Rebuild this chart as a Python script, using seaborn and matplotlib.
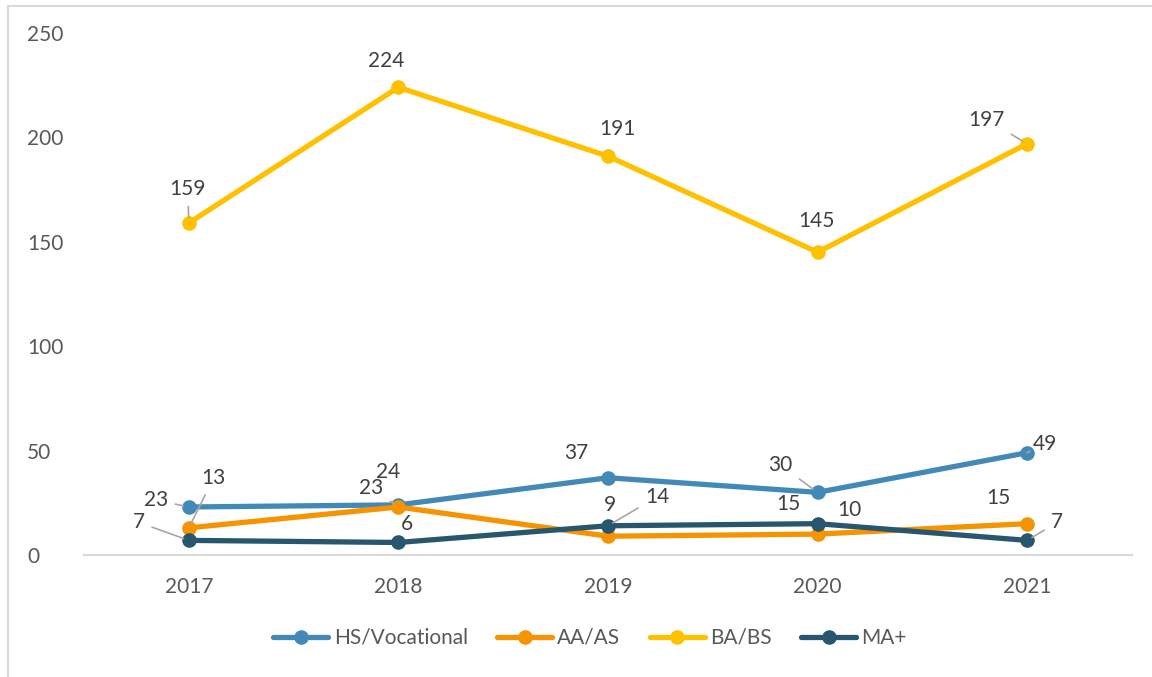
import matplotlib
matplotlib.use('Agg')
import matplotlib.pyplot as plt
from matplotlib.patches import Rectangle
import seaborn as sns
import pandas as pd

years = [2017, 2018, 2019, 2020, 2021]
series_names = ['HS/Vocational', 'AA/AS', 'BA/BS', 'MA+']
hs_vocational = [23, 24, 37, 30, 49]
aa_as = [13, 23, 9, 10, 15]
ba_bs = [159, 224, 191, 145, 197]
ma_plus = [7, 6, 14, 15, 7]
y_ticks = [0, 50, 100, 150, 200, 250]

colors = ['#4389B8', '#F59300', '#FFC000', '#27566E']

# label offsets in pixels (dx right, dy up) and whether a leader line is drawn
label_offsets = {
    'HS/Vocational': [(-33, 7, True), (-10, 33, False), (-32, 25, False), (-37, 27, True), (18, 9, True)],
    'AA/AS': [(25, 50, True), (-27, 19, True), (2, 31, False), (32, 24, False), (-29, 26, False)],
    'BA/BS': [(-1, 34, True), (-12, 26, False), (9, 27, False), (-1, 31, False), (-41, 24, True)],
    'MA+': [(-50, 18, True), (9, 18, False), (49, 29, True), (-29, 20, False), (30, 18, True)],
}

sns.set_style('white')
plt.rcParams['font.family'] = ['Lato', 'DejaVu Sans']

values = [hs_vocational, aa_as, ba_bs, ma_plus]
df = pd.DataFrame({
    'year': years * len(series_names),
    'value': sum(values, []),
    'series': [s for s in series_names for _ in years],
})

fig = plt.figure(figsize=(11.52, 6.77), dpi=100)
ax = fig.add_axes([84 / 1152, 1 - 555 / 677, (1132 - 84) / 1152, (555 - 33) / 677])

sns.lineplot(data=df, x='year', y='value', hue='series', hue_order=series_names,
             palette=colors, marker='o', markersize=10.5, markeredgewidth=0,
             linewidth=3.8, sort=False, ax=ax)

for name, vals in zip(series_names, values):
    for yr, v, (dx, dy, leader) in zip(years, vals, label_offsets[name]):
        arrow = None
        if leader:
            arrow = dict(arrowstyle='-', color='#A6A6A6', lw=1.2, shrinkA=3, shrinkB=4)
        ax.annotate(str(v), xy=(yr, v), xytext=(dx * 0.72, dy * 0.72),
                    textcoords='offset points', ha='center', va='center',
                    fontsize=15, color='#404040', arrowprops=arrow)

ax.set_xlim(2016.5, 2021.5)
ax.set_ylim(0, 250)
ax.set_xticks(years)
ax.set_xticklabels([str(y) for y in years])
ax.set_yticks(y_ticks)
ax.set_xlabel('')
ax.set_ylabel('')
ax.tick_params(axis='x', length=0, pad=16, labelsize=15, labelcolor='#595959')
ax.tick_params(axis='y', length=0, pad=41, labelsize=15, labelcolor='#595959')
for lbl in ax.get_yticklabels():
    lbl.set_horizontalalignment('left')

for side in ['top', 'right', 'left']:
    ax.spines[side].set_visible(False)
ax.spines['bottom'].set_color('#D9D9D9')
ax.spines['bottom'].set_linewidth(1.5)

ax.legend(loc='center', bbox_to_anchor=(590 / 1152, 1 - 638 / 677),
          bbox_transform=fig.transFigure, ncol=4, frameon=False,
          fontsize=15, labelcolor='#595959', handlelength=2.65,
          handletextpad=0.25, columnspacing=1.4)

fig.patches.append(Rectangle((8 / 1152, -0.05), 1.1, 1.05 - 6 / 677,
                             transform=fig.transFigure, fill=False,
                             edgecolor='#D9D9D9', lw=1.5))

fig.savefig('out.png', dpi=100)
